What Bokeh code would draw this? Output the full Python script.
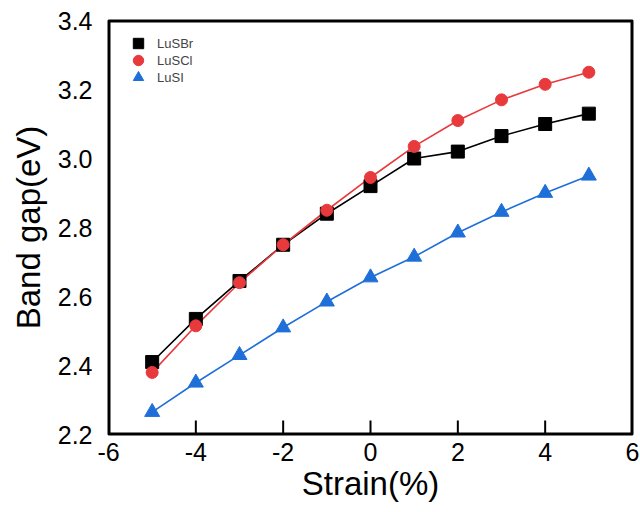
from bokeh.plotting import figure
from bokeh.models import Range1d, FixedTicker, PrintfTickFormatter, Legend, LegendItem
from bokeh.embed import file_html
from bokeh.resources import INLINE

strain = [-5, -4, -3, -2, -1, 0, 1, 2, 3, 4, 5]
lusbr = [2.41, 2.535, 2.645, 2.75, 2.84, 2.92, 3.00, 3.02, 3.065, 3.10, 3.13]
luscl = [2.38, 2.515, 2.64, 2.75, 2.85, 2.945, 3.035, 3.11, 3.17, 3.215, 3.25]
lusi = [2.265, 2.35, 2.43, 2.51, 2.585, 2.655, 2.715, 2.785, 2.845, 2.90, 2.95]
x_ticks = [-6, -4, -2, 0, 2, 4, 6]
y_ticks = [2.2, 2.4, 2.6, 2.8, 3.0, 3.2, 3.4]

FONT = "Liberation Sans"
RED = "#E8393C"
BLUE = "#1F6FD9"
FRAME = "black"

W, H = 640, 512
BL, BR, BT, BB = 108, 8, 20, 78
x0, x1 = x_ticks[0], x_ticks[-1]
y0, y1 = y_ticks[0], y_ticks[-1]
px_x = (x1 - x0) / (W - BL - BR)
px_y = (y1 - y0) / (H - BT - BB)

p = figure(width=W, height=H, output_backend="svg", toolbar_location=None,
           x_range=Range1d(x0, x1), y_range=Range1d(y0, y1),
           min_border_left=BL, min_border_right=BR, min_border_top=BT, min_border_bottom=BB)
p.grid.visible = False
p.outline_line_color = FRAME
p.outline_line_width = 2
p.background_fill_color = "white"
p.border_fill_color = "white"

p.xaxis.ticker = FixedTicker(ticks=x_ticks)
p.yaxis.ticker = FixedTicker(ticks=y_ticks)
p.yaxis.formatter = PrintfTickFormatter(format="%.1f")
p.xaxis.formatter = PrintfTickFormatter(format="%d")
for ax in (p.xaxis[0], p.yaxis[0]):
    ax.axis_line_color = None
    ax.minor_tick_line_color = None
    ax.major_tick_line_color = None
    ax.major_tick_in = 0
    ax.major_tick_out = 0
    ax.major_label_text_font = FONT
    ax.major_label_text_font_size = "25px"
    ax.major_label_text_color = "black"
    ax.axis_label_text_font = FONT
    ax.axis_label_text_font_size = "33px"
    ax.axis_label_text_font_style = "normal"
    ax.axis_label_text_color = "black"
p.xaxis.major_label_standoff = 8
p.yaxis.major_label_standoff = 16
p.xaxis.axis_label = "Strain(%)"
p.yaxis.axis_label = "Band gap(eV)"
p.xaxis.axis_label_standoff = 1
p.yaxis.axis_label_standoff = 8

# frame drawn as filled 2px strips, inward ticks as filled 2px x 14px bars
t = 2
p.quad(left=[x0, x0, x0, x1 - t * px_x],
       right=[x1, x1, x0 + t * px_x, x1],
       bottom=[y0, y1 - t * px_y, y0, y0],
       top=[y0 + t * px_y, y1, y1, y1],
       fill_color=FRAME, line_color=None)
inner = x_ticks[1:-1]
p.quad(left=[v - px_x for v in inner], right=[v + px_x for v in inner],
       bottom=[y0] * len(inner), top=[y0 + 14 * px_y] * len(inner),
       fill_color=FRAME, line_color=None)

p.line(strain, lusbr, line_color="black", line_width=1.6)
p.line(strain, luscl, line_color=RED, line_width=1.6)
p.line(strain, lusi, line_color=BLUE, line_width=1.6)
r1 = p.scatter(strain, lusbr, marker="square", size=13, fill_color="black", line_color="black")
r2 = p.scatter(strain, luscl, marker="circle", size=12, fill_color=RED, line_color=RED)
r3 = p.scatter(strain, lusi, marker="triangle", size=15, fill_color=BLUE, line_color=BLUE)

for label, r, ybot in (("LuSBr", r1, 378), ("LuSCl", r2, 361), ("LuSI", r3, 344)):
    lg = Legend(items=[LegendItem(label=label, renderers=[r])],
                location=(17, ybot), border_line_color=None, background_fill_alpha=0,
                label_text_font=FONT, label_text_font_size="13px",
                label_height=26, glyph_height=26, glyph_width=26, spacing=0,
                padding=0, margin=0, label_standoff=6)
    p.add_layout(lg)

open("out.html", "w").write(file_html(p, INLINE))
